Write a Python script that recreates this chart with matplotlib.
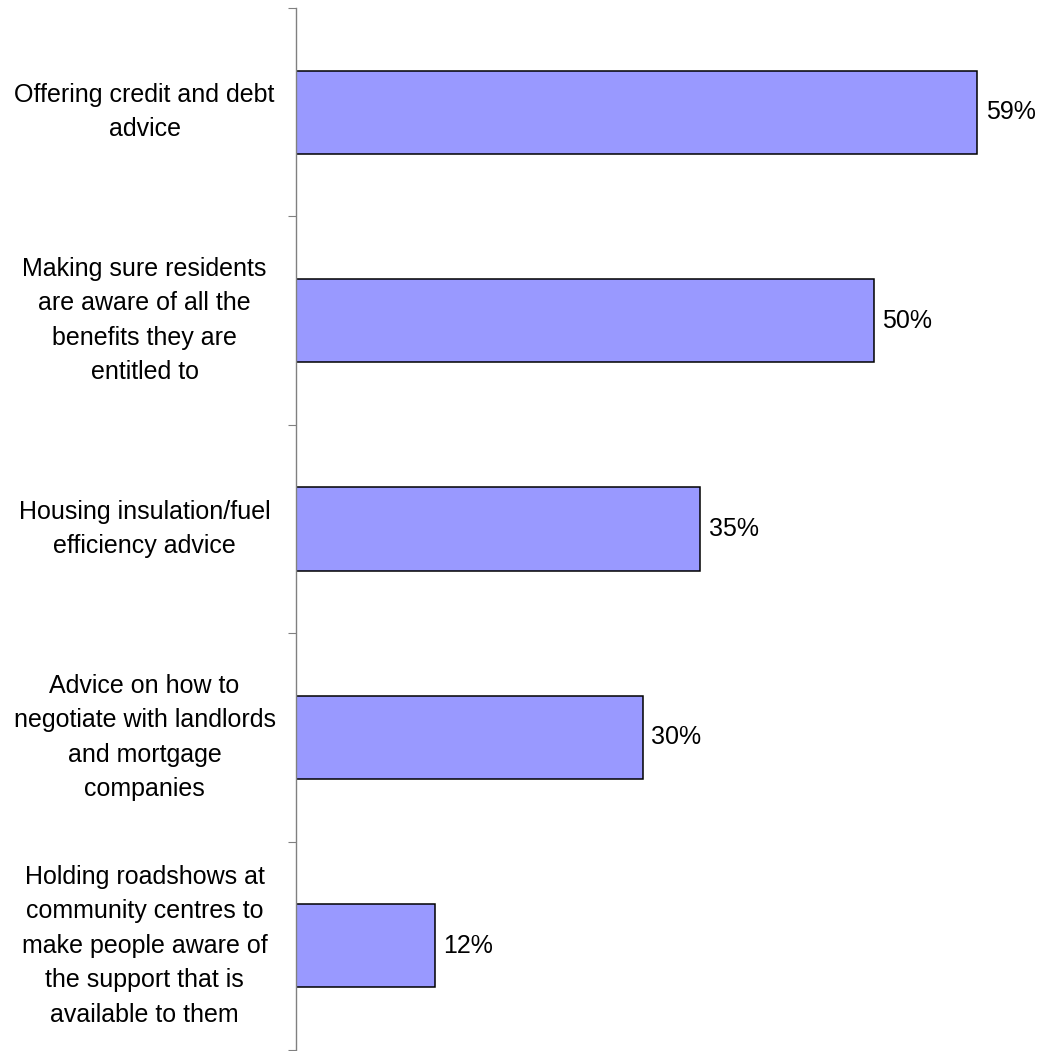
import matplotlib
matplotlib.use("Agg")
import matplotlib.pyplot as plt

categories = [
    "Offering credit and debt\nadvice",
    "Making sure residents\nare aware of all the\nbenefits they are\nentitled to",
    "Housing insulation/fuel\nefficiency advice",
    "Advice on how to\nnegotiate with landlords\nand mortgage\ncompanies",
    "Holding roadshows at\ncommunity centres to\nmake people aware of\nthe support that is\navailable to them",
]
values = [59, 50, 35, 30, 12]

plt.rcParams["font.family"] = ["Liberation Sans", "DejaVu Sans"]

W, H = 1041, 1051
fig = plt.figure(figsize=(W / 100, H / 100), dpi=100)
ax = fig.add_axes([296 / W, 1 / H, (W - 296) / W, 1042 / H])

pos = list(range(len(categories)))
ax.barh(pos, values, height=0.4, color="#9999FF", edgecolor="black", linewidth=1.1)

for y, v in zip(pos, values):
    ax.annotate(f"{v}%", (v, y), xytext=(6, 0), textcoords="offset points",
                va="center", ha="left", fontsize=18)

ax.set_xlim(0, 64.5)
ax.set_ylim(len(categories) - 0.5, -0.5)

# boundary ticks (major) and centred labels (minor)
ax.set_yticks([i - 0.5 for i in range(len(categories) + 1)])
ax.set_yticklabels([])
ax.set_yticks(pos, minor=True)
ax.set_yticklabels(categories, minor=True, ha="center", va="center",
                   multialignment="center", fontsize=18, linespacing=1.55)
ax.tick_params(axis="y", which="major", length=6, width=0.8, color="#808080", direction="out")
ax.tick_params(axis="y", which="minor", length=0, pad=109)
ax.set_xticks([])

for s in ["top", "right", "bottom"]:
    ax.spines[s].set_visible(False)
ax.spines["left"].set_color("#808080")
ax.spines["left"].set_linewidth(1.0)

fig.savefig("out.png", dpi=100)
